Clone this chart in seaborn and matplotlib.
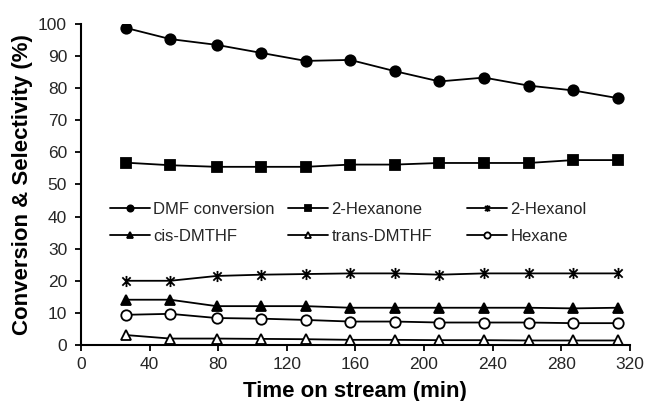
import numpy as np
import pandas as pd
import matplotlib
matplotlib.use("Agg")
import matplotlib.pyplot as plt
from matplotlib.path import Path
import seaborn as sns

time_min = [26, 52, 79, 105, 131, 157, 183, 209, 235, 261, 287, 313]
dmf_conversion = [98.8, 95.3, 93.5, 91.0, 88.5, 88.8, 85.3, 82.1, 83.3, 80.8, 79.3, 76.9]
hexanone = [56.8, 56.0, 55.5, 55.5, 55.5, 56.2, 56.2, 56.7, 56.7, 56.7, 57.6, 57.6]
hexanol = [20.0, 20.0, 21.5, 21.9, 22.1, 22.3, 22.3, 21.9, 22.3, 22.3, 22.3, 22.3]
cis_dmthf = [14.1, 14.1, 12.1, 12.1, 12.1, 11.6, 11.6, 11.6, 11.6, 11.6, 11.4, 11.6]
trans_dmthf = [3.1, 2.0, 2.0, 1.9, 1.8, 1.6, 1.6, 1.5, 1.5, 1.4, 1.4, 1.4]
hexane = [9.4, 9.7, 8.4, 8.2, 7.8, 7.3, 7.3, 7.0, 7.0, 7.0, 6.8, 6.8]

series_names = ["DMF conversion", "2-Hexanone", "2-Hexanol",
                "cis-DMTHF", "trans-DMTHF", "Hexane"]
series_values = [dmf_conversion, hexanone, hexanol, cis_dmthf, trans_dmthf, hexane]

# asterisk-style star: vertical bar plus an X
star = Path([(0, -1), (0, 1), (-0.75, -0.75), (0.75, 0.75), (-0.75, 0.75), (0.75, -0.75)],
            [Path.MOVETO, Path.LINETO, Path.MOVETO, Path.LINETO, Path.MOVETO, Path.LINETO])

styles = {
    "DMF conversion": dict(marker="o", ms=7.5, mfc="black"),
    "2-Hexanone": dict(marker="s", ms=7.5, mfc="black"),
    "2-Hexanol": dict(marker=star, ms=8, mfc="black"),
    "cis-DMTHF": dict(marker="^", ms=7.5, mfc="black"),
    "trans-DMTHF": dict(marker="^", ms=7.5, mfc="white"),
    "Hexane": dict(marker="o", ms=7.5, mfc="white"),
}

sns.set_style("ticks")
plt.rcParams["font.family"] = ["Liberation Sans", "DejaVu Sans"]

fig = plt.figure(figsize=(6.46, 4.01), dpi=100)
ax = fig.add_axes([0.1254, 0.1397, 0.8496, 0.8005])

for name, vals in zip(series_names, series_values):
    df = pd.DataFrame({"t": time_min, "v": vals})
    st = styles[name]
    sns.lineplot(data=df, x="t", y="v", ax=ax, color="black", lw=1.3,
                 marker=st["marker"], markersize=st["ms"],
                 markerfacecolor=st["mfc"], markeredgecolor="black",
                 markeredgewidth=1.3, label=name)

ax.set_xlim(0, 320)
ax.set_ylim(0, 100)
ax.set_xticks(np.arange(0, 321, 40))
ax.set_yticks(np.arange(0, 101, 10))
ax.tick_params(axis="both", direction="out", length=4, width=1.3,
               labelsize=12.5, colors="black", labelcolor="#262626")
ax.tick_params(axis="x", pad=5)
ax.tick_params(axis="y", pad=6)
for side in ["left", "bottom"]:
    ax.spines[side].set_linewidth(1.5)
    ax.spines[side].set_color("black")
sns.despine(ax=ax)

ax.set_xlabel("Time on stream (min)", fontsize=16, fontweight="bold",
              color="black", labelpad=6)
ax.set_ylabel("Conversion & Selectivity (%)", fontsize=16, fontweight="bold",
              color="black", labelpad=4)

# legend laid out row by row in three equal-width columns
handles, labels = ax.get_legend_handles_labels()
ax.get_legend().remove()
col_x = [0.053, 0.377, 0.703]
legends = []
for c, x0 in enumerate(col_x):
    idx = [c, c + 3]
    leg = ax.legend([handles[i] for i in idx], [labels[i] for i in idx],
                    loc="center left", bbox_to_anchor=(x0, 0.38),
                    frameon=False, fontsize=12, markerscale=0.6,
                    handlelength=2.4, handletextpad=0.2, labelspacing=0.75,
                    borderpad=0, borderaxespad=0)
    legends.append(leg)
for leg in legends[:-1]:
    ax.add_artist(leg)

fig.savefig("out.png", dpi=100)
